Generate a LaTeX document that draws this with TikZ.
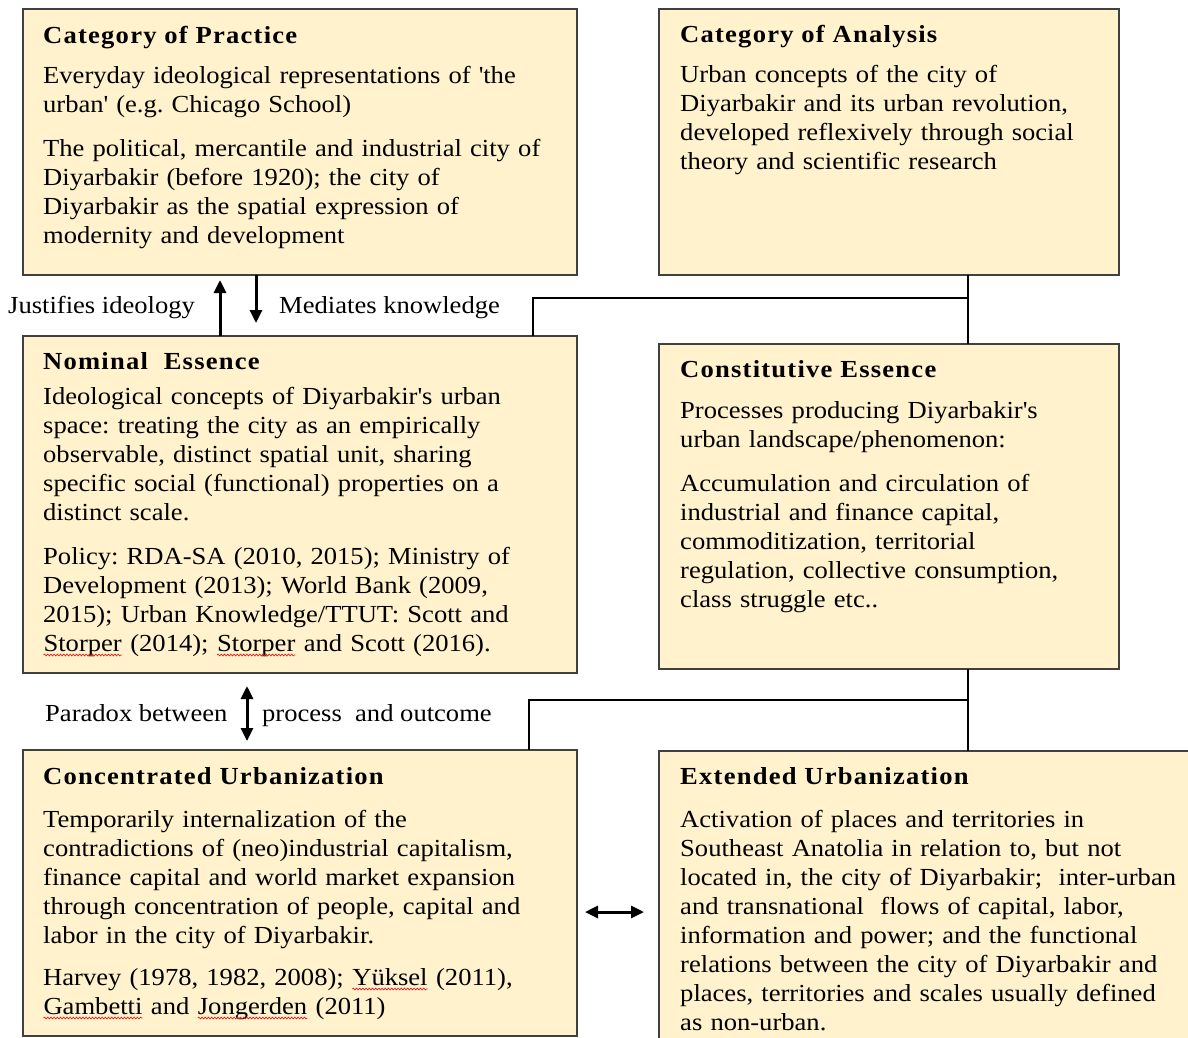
\documentclass[tikz,border=0pt]{standalone}
\usepackage{fontspec}
\setmainfont[FakeStretch=1.085]{Liberation Serif}
\usetikzlibrary{arrows.meta,calc,decorations.pathmorphing}
\definecolor{boxfill}{HTML}{FFF2CC}
\definecolor{boxline}{HTML}{404040}
\definecolor{spellred}{HTML}{E02020}
\frenchspacing

\tikzset{
  panel/.style={draw=boxline, line width=1.3pt, fill=boxfill, rectangle,
    inner sep=0pt, outer sep=0pt, anchor=north west},
  heading/.style={anchor=base west, inner sep=0pt,
    font=\bfseries\fontsize{24.5pt}{29pt}\selectfont\addfontfeature{LetterSpace=5}},
  body/.style={anchor=base west, inner sep=0pt, text width=540pt, align=left,
    font=\fontsize{24.5pt}{29pt}\selectfont\frenchspacing},
  note/.style={anchor=base west, inner sep=0pt, font=\fontsize{24.5pt}{29pt}\selectfont},
  link/.style={line width=2.9pt, black},
  tip/.tip={Triangle[length=13pt,width=12pt]},
  oneway/.style={link, line width=3pt, -tip},
  twoway/.style={link, line width=3pt, tip-tip},
  squiggle/.style={draw=spellred, line width=0.7pt, decorate,
    decoration={snake, amplitude=0.9pt, segment length=3.2pt}},
}

% a word carrying a red wavy underline
\newcommand\wavyword[1]{\tikz[baseline=(w.base)]{\node[inner sep=0pt, outer sep=0pt] (w) {#1};
  \draw[squiggle] ([yshift=-4pt]w.base west) -- ([yshift=-4pt]w.base east);}}

\begin{document}
\begin{tikzpicture}[x=1pt,y=-1pt]
\path[use as bounding box] (0,0) rectangle (1188,1037);
\clip (0,0) rectangle (1188,1037);

% panels
\node[panel, minimum width=554pt, minimum height=266pt] (cp) at (23,9) {};
\node[panel, minimum width=460pt, minimum height=266pt] (ca) at (659,9) {};
\node[panel, minimum width=554pt, minimum height=337pt] (ne) at (23,336) {};
\node[panel, minimum width=460pt, minimum height=325pt] (ce) at (659,344) {};
\node[panel, minimum width=554pt, minimum height=286pt] (cu) at (23,750) {};
\node[panel, minimum width=560pt, minimum height=320pt] (eu) at (659,751) {};

% Category of Practice
\node[heading] (cpt) at (43,43) {Category of Practice};
\node[body] (cpb) at (43,83) {Everyday ideological representations of \textquotesingle the\\
urban\textquotesingle{} (e.g. Chicago School)\\[15pt]
The political, mercantile and industrial city of\\
Diyarbakir (before 1920); the city of\\
Diyarbakir as the spatial expression of\\
modernity and development};

% Category of Analysis
\node[heading] (cat) at (680,42) {Category of Analysis};
\node[body] (cab) at (680,82) {Urban concepts of the city of\\
Diyarbakir and its urban revolution,\\
developed reflexively through social\\
theory and scientific research};

% Nominal Essence
\node[heading] (net) at (43,369) {Nominal\ \ Essence};
\node[body] (neb) at (43,404) {Ideological concepts of Diyarbakir\textquotesingle s urban\\
space: treating the city as an empirically\\
observable, distinct spatial unit, sharing\\
specific social (functional) properties on a\\
distinct scale.\\[15pt]
Policy: RDA-SA (2010, 2015); Ministry of\\
Development (2013); World Bank (2009,\\
2015); Urban Knowledge/TTUT: Scott and\\
\wavyword{Storper} (2014); \wavyword{Storper} and Scott (2016).};

% Constitutive Essence
\node[heading] (cet) at (680,377) {Constitutive Essence};
\node[body] (ceb) at (680,418) {Processes producing Diyarbakir\textquotesingle s\\
urban landscape/phenomenon:\\[15pt]
Accumulation and circulation of\\
industrial and finance capital,\\
commoditization, territorial\\
regulation, collective consumption,\\
class struggle etc..};

% Concentrated Urbanization
\node[heading] (cut) at (43,784) {Concentrated Urbanization};
\node[body] (cub) at (43,827) {Temporarily internalization of the\\
contradictions of (neo)industrial capitalism,\\
finance capital and world market expansion\\
through concentration of people, capital and\\
labor in the city of Diyarbakir.\\[13pt]
Harvey (1978, 1982, 2008); \wavyword{Yüksel} (2011),\\
\wavyword{Gambetti} and \wavyword{Jongerden} (2011)};

% Extended Urbanization
\node[heading] (eut) at (680,784) {Extended Urbanization};
\node[body] (eub) at (680,827) {Activation of places and territories in\\
Southeast Anatolia in relation to, but not\\
located in, the city of Diyarbakir;\ \ inter-urban\\
and transnational\ \ flows of capital, labor,\\
information and power; and the functional\\
relations between the city of Diyarbakir and\\
places, territories and scales usually defined\\
as non-urban.};

% labels beside the vertical arrows
\node[note] (l1) at (8,313) {Justifies ideology};
\node[note] (l2) at (279,313) {Mediates knowledge};
\node[note] (l3) at (45,721) {Paradox between};
\node[note] (l4) at (262,721) {process\ \ and outcome};

% junctions of the bracket connectors
\coordinate (j1) at (968,298);
\coordinate (s1) at (533,298);
\coordinate (j2) at (968,700);
\coordinate (s2) at (529,700);

\draw[link] (j1 |- ca.south) -- (j1 |- ce.north);
\draw[link] (s1 |- ne.north) -- (s1) -- (j1);
\draw[link] (j2 |- ce.south) -- (j2 |- eu.north);
\draw[link] (s2 |- cu.north) -- (s2) -- (j2);

% arrows
\draw[oneway] ([xshift=197pt]ne.north west) -- ([xshift=197pt,yshift=-5pt]cp.south west);
\draw[oneway] ([xshift=233pt]cp.south west) -- ([xshift=233pt,yshift=13pt]ne.north west);
\draw[twoway] ([xshift=224pt,yshift=-13pt]ne.south west) -- ([xshift=224pt,yshift=9pt]cu.north west);
\draw[twoway] ([xshift=8pt,yshift=-162pt]cu.north east) -- ([xshift=-15pt,yshift=-161pt]eu.north west);
\end{tikzpicture}
\end{document}
